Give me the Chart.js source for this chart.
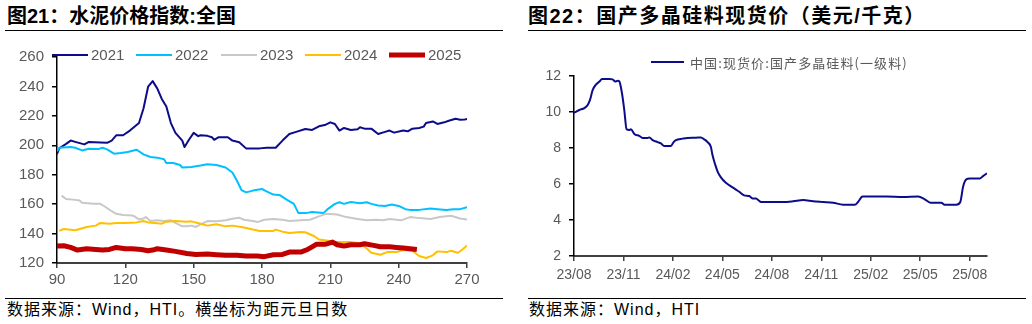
<!DOCTYPE html>
<html><head><meta charset="utf-8">
<script src="https://cdn.jsdelivr.net/npm/chart.js@4.4.1/dist/chart.umd.min.js"></script>
<style>
body{margin:0;width:1032px;height:324px;background:#fff;position:relative;overflow:hidden;font-family:"Liberation Sans","Noto Sans CJK SC",sans-serif;}
.t{position:absolute;font-family:"Liberation Sans","Noto Sans CJK SC",sans-serif;font-weight:bold;font-size:20px;color:#000;white-space:nowrap;line-height:1;}
.rule{position:absolute;height:0;border-top:1.5px solid #000;}
.src{position:absolute;font-size:16px;white-space:nowrap;line-height:1;color:#000;letter-spacing:1px;}
.cw{position:absolute;}
</style></head><body>
<div class="t" style="left:7px;top:6px">图21：水泥价格指数:全国</div>
<div class="t" style="left:528px;top:6px;letter-spacing:1.5px">图22：国产多晶硅料现货价（美元/千克）</div>
<div class="rule" style="left:5px;top:30px;width:498px"></div>
<div class="rule" style="left:528px;top:30px;width:498px"></div>
<div class="cw" style="left:0;top:40px;width:510px;height:250px"><canvas id="c1"></canvas></div>
<div class="cw" style="left:516px;top:40px;width:516px;height:250px"><canvas id="c2"></canvas></div>
<div class="rule" style="left:5px;top:298px;width:498px"></div>
<div class="rule" style="left:528px;top:298px;width:498px"></div>
<div class="src" style="left:7px;top:302px">数据来源：Wind，HTI。横坐标为距元旦日数</div>
<div class="src" style="left:529px;top:302px">数据来源：Wind，HTI</div>
<script>
// ---------- Chart 21 data (x = days since New Year) ----------
const seriesNames = ['2021','2022','2023','2024','2025'];
const days2021 = [90,91,94,96,98,102,104,109,112,114,116,119,122,126,128,130,132,134,136,138,140,142,145,146,148,150,152,153,156,158,159,161,165,167,170,173,176,179,182,186,189,192,195,199,202,205,208,210,212,214,216,219,222,223,225,228,231,234,236,238,242,244,246,249,251,252,255,257,260,262,265,267,269,270];
const vals2021 = [194,198,201,203.2,202.3,200.6,202.3,201.9,201.7,203.2,206.8,206.8,210,215.1,225.2,239.8,243.6,238.7,231.5,226.4,215.1,208.4,203.2,198.8,203.9,208.4,206.2,206.8,206.4,205.5,203.7,205.5,205.5,203.2,202.1,197.9,197.9,197.9,198.3,198.3,203.2,207.7,209.1,211.1,210.4,212.9,214,215.6,214.5,210,211.8,210.4,210.9,212.2,211.3,211.3,207.7,209.1,210,208.6,210,209.5,211.3,211.8,212.7,215.1,216.2,214.5,215.6,216.7,218,217.4,217.6,217.8];
const days2022 = [90,91,96,98,101,104,108,110,112,115,118,121,125,128,131,134,137,138,141,144,145,149,153,156,160,164,167,169,171,173,176,180,182,185,188,191,194,196,199,202,207,209,212,214,216,219,223,226,228,231,234,237,240,243,245,249,254,257,261,264,267,270];
const vals2022 = [196,198.3,198.8,198.3,196.5,197.6,197.4,198.3,197.2,194.3,194.7,195.4,197,193.8,192,191.6,190.5,188,188,186.6,184.9,185.3,186.2,187.1,186.6,184.9,181.5,175.9,169.6,168,169.2,170.3,168.7,166.5,166,162.9,160.2,153.9,153.9,154.6,153.9,156.8,160.2,161.3,160.2,161.5,160.6,161.3,160.2,159.1,158.8,159.7,158.8,156.6,156.1,156.1,157,156.6,156.1,156.6,156.6,157.9];
const days2023 = [92,94,98,100,101,106,109,111,114,116,119,123,124,126,128,129,131,134,137,140,142,145,147,149,151,153,156,160,164,167,170,172,176,178,181,185,189,192,197,201,205,208,213,217,222,226,230,233,236,241,245,249,254,258,263,267,270];
const vals2023 = [165.8,163.5,162.9,162.4,160.9,160.2,160.2,158.4,155.2,153.4,152.6,152.3,151.7,149.6,150.3,151.2,148.5,149,148.5,149,147.2,144.9,144.9,145.4,144.5,146.3,148.5,148.3,149,150.1,150.8,149.4,148.5,147.8,149.4,149.9,149.4,148.5,149,149.4,151.7,153.4,153,151.2,149.9,149,149.4,149,149.9,149,151.2,150.5,149.9,151.2,152.1,150.3,149.6];
const days2024 = [91,93,98,100,103,107,109,113,116,120,125,128,130,133,136,138,142,147,149,153,156,160,164,167,171,175,179,185,186,189,192,197,199,203,205,209,211,215,219,223,226,228,232,235,239,242,246,249,252,255,257,261,263,266,268,270];
const vals2024 = [141.8,143.1,142.2,143.1,144.5,145.4,147.2,146.7,147.2,147.2,147.6,148.5,147.6,147.2,146.7,148.1,148.5,148.1,148.3,146.7,145.4,146.3,144.9,145.4,144.5,143.1,141.8,141.8,142.7,141.3,140.4,141.1,140.9,138.2,136,135.1,134.4,134.2,134.2,133.3,129.9,127,125.6,127.4,127.4,128.8,128.3,124.7,123.4,125.2,127.9,127.4,128.3,127,129.2,131.9];
const days2025 = [90,93,96,99,103,107,110,113,116,120,123,127,130,132,134,138,142,147,151,156,160,164,169,173,178,181,185,189,192,197,200,202,204,208,211,213,216,219,223,225,229,232,236,239,242,245,248];
const vals2025 = [131.5,131.7,130.6,128.8,129.7,129.2,128.8,129.2,130.6,129.7,129.7,129.2,128.3,128.8,129.7,128.8,127.9,126.5,125.8,126.1,125.6,125.2,125.2,124.7,124.7,124.3,125.6,125.8,127.4,127.4,129.2,131,132.8,132.8,134.2,132.4,131.5,132.4,132.4,133.1,132,131,131,130.6,130.2,129.7,129.2];
const xTicks21 = [90,120,150,180,210,240,270];
const yTicks21 = [120,140,160,180,200,220,240,260];

// ---------- Chart 22 data (x = months since 2023/08) ----------
const siliconName = '中国:现货价:国产多晶硅料(一级料)';
const monthsSi = [0,0.32,0.63,0.83,0.97,1.13,1.33,1.54,1.7,2.14,2.34,2.51,2.65,2.75,2.91,3.05,3.19,3.35,3.45,3.66,3.96,4.16,4.46,4.57,4.77,5.07,5.27,5.47,5.88,6.02,6.18,6.59,6.89,7.39,7.7,7.9,8.1,8.3,8.4,8.57,8.71,8.91,9.21,9.62,10.02,10.32,10.63,10.83,11.03,11.23,11.33,12.24,12.69,13.29,13.9,14.5,15.11,15.72,16.32,17.03,17.23,17.5,17.94,18.95,19.96,20.87,21.27,21.62,22.28,22.48,23.19,23.43,23.6,23.8,24,24.61,24.81,25.05];
const priceSi = [9.96,10.11,10.22,10.39,10.67,11.22,11.52,11.69,11.83,11.83,11.81,11.69,11.74,11.7,11.04,10.11,9.04,9,9.04,8.78,8.67,8.56,8.56,8.59,8.44,8.33,8.26,8.11,8.11,8.3,8.44,8.52,8.56,8.57,8.59,8.48,8.33,8.07,7.61,7.06,6.69,6.37,6.07,5.81,5.57,5.37,5.33,5.2,5.19,5.07,5,5,5,5.04,5.11,5.04,5,4.96,4.85,4.85,5,5.3,5.3,5.3,5.28,5.3,5.15,4.96,4.96,4.85,4.85,5,5.85,6.26,6.31,6.3,6.44,6.59];
const xTickLabels22 = ['23/08','23/11','24/02','24/05','24/08','24/11','25/02','25/05','25/08'];
const yTicks22 = [2,4,6,8,10,12];

// ---------- helpers ----------
const TICK_COLOR = '#595959';
const pts = (xs, ys) => xs.map((x, i) => ({x, y: ys[i]}));

const customLegend = {
  id: 'customLegend',
  afterDraw(chart, args, opts) {
    if (!opts.items) return;
    const ctx = chart.ctx;
    ctx.save();
    opts.items.forEach((it) => {
      const ds = chart.data.datasets[it.index];
      ctx.strokeStyle = ds.borderColor;
      ctx.lineWidth = ds.borderWidth;
      ctx.lineCap = 'butt';
      ctx.beginPath();
      ctx.moveTo(it.x, opts.y);
      ctx.lineTo(it.x + opts.len, opts.y);
      ctx.stroke();
      ctx.fillStyle = opts.color;
      ctx.font = opts.font;
      if (opts.spacing) ctx.letterSpacing = opts.spacing;
      ctx.textBaseline = 'middle';
      ctx.textAlign = 'left';
      ctx.fillText(ds.label, it.x + opts.len + opts.gap, opts.y + 1);
    });
    ctx.restore();
  }
};

function axisX(min, max, ticksArr, labelFn, fontSize, pad, height) {
  return {
    type: 'linear', min, max,
    afterBuildTicks: s => { s.ticks = ticksArr.map(v => ({value: v})); },
    afterFit: s => { s.height = height; },
    grid: {drawOnChartArea: false, drawTicks: true, tickLength: 5, color: '#404040', lineWidth: 1.5},
    border: {display: true, color: '#404040', width: 2},
    ticks: {color: TICK_COLOR, font: {family: 'Liberation Sans', size: fontSize}, padding: pad, maxRotation: 0, autoSkip: false, callback: labelFn}
  };
}
function axisY(min, max, ticksArr, fontSize, width) {
  return {
    min, max,
    afterBuildTicks: s => { s.ticks = ticksArr.map(v => ({value: v})); },
    afterFit: s => { s.width = width; },
    grid: {drawOnChartArea: false, drawTicks: true, tickLength: 5, color: '#000', lineWidth: 1.5},
    border: {display: true, color: '#000', width: 1.5},
    ticks: {color: TICK_COLOR, font: {family: 'Liberation Sans', size: fontSize}, padding: 8}
  };
}

// ---------- Chart 21 ----------
const colors21 = ['#0C0C8A', '#00C0FF', '#C8C8C8', '#FFC000', '#C00000'];
const widths21 = [2, 2, 2, 2, 5];
const order21 = [4, 3, 2, 1, 0];
const dayArrs = [days2021, days2022, days2023, days2024, days2025];
const valArrs = [vals2021, vals2022, vals2023, vals2024, vals2025];

new Chart(document.getElementById('c1'), {
  type: 'line',
  data: {
    datasets: seriesNames.map((n, i) => ({
      label: n, data: pts(dayArrs[i], valArrs[i]),
      borderColor: colors21[i], backgroundColor: colors21[i], borderWidth: widths21[i],
      pointRadius: 0, tension: 0, order: order21[i], borderJoinStyle: 'round'
    }))
  },
  options: {
    responsive: true, maintainAspectRatio: false, animation: false,
    layout: {padding: {top: 15, right: 43, left: 0, bottom: 0}},
    plugins: {
      legend: {display: false}, tooltip: {enabled: false},
      customLegend: {
        y: 15, len: 36, gap: 3, color: TICK_COLOR, font: '15px "Liberation Sans"',
        items: [{index: 0, x: 52}, {index: 1, x: 136}, {index: 2, x: 221}, {index: 3, x: 305}, {index: 4, x: 389}]
      }
    },
    scales: {
      x: axisX(90, 270, xTicks21, v => String(v), 15, 3, 27),
      y: axisY(120, 260, yTicks21, 15, 57)
    }
  },
  plugins: [customLegend]
});

// ---------- Chart 22 ----------
const xTickVals22 = xTickLabels22.map((_, i) => i * 3);
new Chart(document.getElementById('c2'), {
  type: 'line',
  data: {
    datasets: [{
      label: siliconName, data: pts(monthsSi, priceSi),
      borderColor: '#0C0C8A', backgroundColor: '#0C0C8A', borderWidth: 2,
      pointRadius: 0, cubicInterpolationMode: 'monotone'
    }]
  },
  options: {
    responsive: true, maintainAspectRatio: false, animation: false,
    layout: {padding: {top: 36, right: 45, left: 0, bottom: 0}},
    plugins: {
      legend: {display: false}, tooltip: {enabled: false},
      customLegend: {
        y: 22, len: 33, gap: 6, color: TICK_COLOR, font: '13px "Noto Sans CJK SC"', spacing: '1.1px',
        items: [{index: 0, x: 135}]
      }
    },
    scales: {
      x: axisX(0, 25.05, xTickVals22, v => xTickLabels22[Math.round(v / 3)] || '', 14, 6, 34),
      y: axisY(2, 12, yTicks22, 14, 58)
    }
  },
  plugins: [customLegend]
});
</script>
</body></html>
